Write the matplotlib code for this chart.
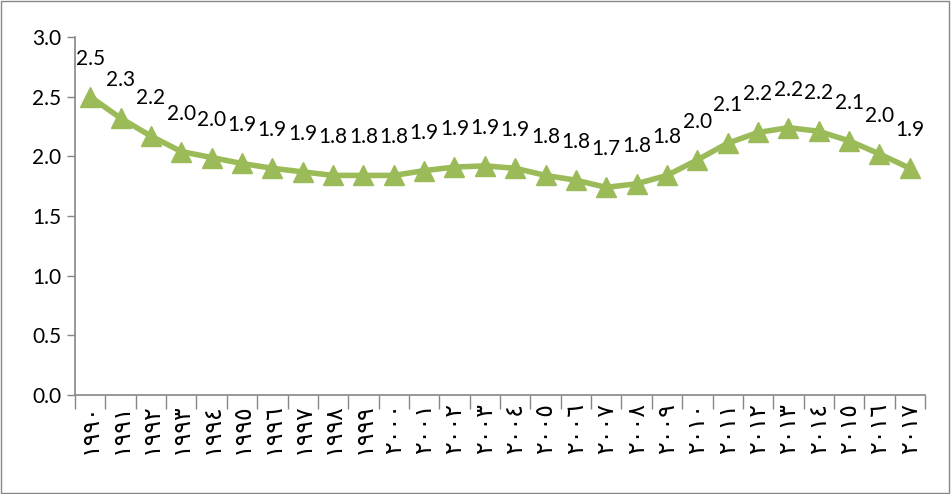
import numpy as np
import matplotlib.pyplot as plt
from matplotlib.patches import Rectangle

# yearly series, 1990-2017
years = list(range(1990, 2018))
values = [2.50, 2.32, 2.17, 2.04, 1.99, 1.94, 1.90, 1.87, 1.84, 1.84,
          1.84, 1.88, 1.91, 1.92, 1.90, 1.84, 1.80, 1.74, 1.77, 1.84,
          1.97, 2.11, 2.20, 2.24, 2.21, 2.13, 2.02, 1.90]
yticks = [0.0, 0.5, 1.0, 1.5, 2.0, 2.5, 3.0]

arabic_digits = str.maketrans('0123456789', '٠١٢٣٤٥٦٧٨٩')
year_labels = [str(y).translate(arabic_digits) for y in years]

green = '#9BBB59'
gray = '#868686'

fig = plt.figure(figsize=(9.51, 4.94), dpi=100)
ax = fig.add_axes([75 / 951, 1 - 395 / 494, 850 / 951, 358 / 494])

x = np.arange(len(years))
ax.plot(x, values, color=green, lw=4, marker='^', markersize=15,
        markerfacecolor=green, markeredgecolor=green, zorder=3)

for xi, v in zip(x, values):
    ax.annotate(f'{v:.1f}', (xi, v), xytext=(0, 38), textcoords='offset pixels',
                ha='center', va='center', fontsize=15, family='Lato',
                color='#000000')

ax.set_xlim(-0.5, len(years) - 0.5)
ax.set_ylim(0, 3.0)
ax.set_yticks(yticks)
ax.set_yticklabels([f'{t:.1f}' for t in yticks], fontsize=15, family='Lato')

ax.set_xticks(x)
ax.set_xticklabels(year_labels, rotation=90, fontsize=17, family='DejaVu Sans')
ax.set_xticks(np.arange(len(years) + 1) - 0.5, minor=True)
ax.tick_params(axis='x', which='major', length=0, pad=6)
ax.tick_params(axis='x', which='minor', length=10, color=gray, width=1)
ax.tick_params(axis='y', length=6, color=gray, width=1, pad=4)

for side in ('top', 'right'):
    ax.spines[side].set_visible(False)
for side in ('left', 'bottom'):
    ax.spines[side].set_color(gray)
    ax.spines[side].set_linewidth(1.2)

# thin frame around the whole chart
fig.patches.append(Rectangle((0.001, 0.002), 0.997, 0.995, transform=fig.transFigure,
                             fill=False, edgecolor=gray, lw=1))

fig.savefig('out.png', dpi=100)
